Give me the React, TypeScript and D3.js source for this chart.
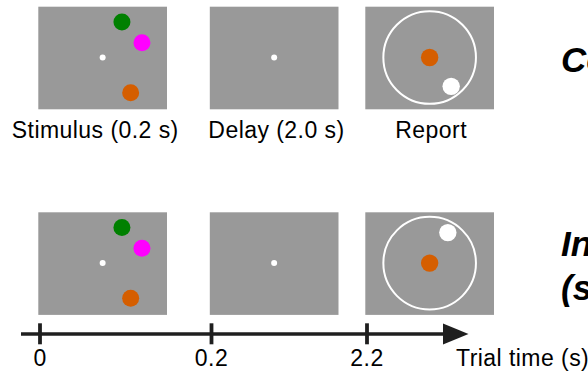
import React from 'react'
import * as d3 from 'd3'

// trial epochs and time axis
const epochNames = ['Stimulus (0.2 s)', 'Delay (2.0 s)', 'Report']
const epochStarts = [0, 0.2, 2.2]
const tickLabels = ['0', '0.2', '2.2']
const axisLabel = 'Trial time (s)'

// stimulus items (angle in deg clockwise from right, eccentricity in arbitrary units)
const stimColors = ['#008000', '#ff00ff', '#d55e00']
const stimAngles = [-61.5, -20.6, 51.5]
const stimEcc = [4.04, 4.2, 4.5]
const cueIndex = 2

// trial types and where the response landed
const trialTitles = [['Correct'], ['Incorrect', '(swap)']]
const reportAngles = [53.3, -59.2]
const reportEcc = [3.6, 3.55]

const W = 588
const H = 373
const font = '"Liberation Sans", Arial, Helvetica, sans-serif'

const App = () => {
  const x = d3.scaleLinear().domain(epochStarts).range([40, 211.5, 367])
  const ecc = d3.scaleLinear().domain([0, 1]).range([0, 10])
  const panelW = 128.7
  const panelH = 102.6
  const rowTop = [6.7, 212.3]
  const axisY = 334
  const labelDx = [-7.4, 2.3, 1.5]
  const fs = 23
  const ls = 0.45

  const polar = (a, r) => {
    const rad = (a * Math.PI) / 180
    return [ecc(r) * Math.cos(rad), ecc(r) * Math.sin(rad)]
  }

  return (
    <svg width={W} height={H} style={{position: 'absolute', left: 0, top: 0, overflow: 'hidden', background: '#fff'}}>
      {trialTitles.map((lines, row) => {
        const top = rowTop[row]
        const cy = top + panelH / 2 - 0.5
        return (
          <g key={row}>
            {epochStarts.map((t, i) => {
              const left = x(t) - 1.7
              const cx = left + panelW / 2
              return (
                <g key={i}>
                  <rect x={left} y={top} width={panelW} height={panelH} fill="#999999" />
                  {i < 2 && <circle cx={cx} cy={cy} r={3} fill="#fff" />}
                  {i === 0 && stimColors.map((c, k) => {
                    const [dx, dy] = polar(stimAngles[k], stimEcc[k])
                    return <circle key={k} cx={cx + dx} cy={cy + dy} r={8.5} fill={c} />
                  })}
                  {i === 2 && (
                    <g>
                      <circle cx={cx} cy={cy} r={46.3} fill="none" stroke="#fff" strokeWidth={2} />
                      <circle cx={cx} cy={cy} r={8.7} fill={stimColors[cueIndex]} />
                      {(() => {
                        const [dx, dy] = polar(reportAngles[row], reportEcc[row])
                        return <circle cx={cx + dx} cy={cy + dy} r={8.7} fill="#fff" />
                      })()}
                    </g>
                  )}
                  {row === 0 && (
                    <text x={cx + labelDx[i]} y={137.7} textAnchor="middle" fontFamily={font} fontSize={fs} letterSpacing={ls} fill="#000">
                      {epochNames[i]}
                    </text>
                  )}
                </g>
              )
            })}
            <text fontFamily={font} fontSize={35} fontWeight="bold" fontStyle="italic" fill="#000">
              {lines.map((l, j) => (
                <tspan key={j} x={561} y={(lines.length === 1 ? 72 : 256) + j * 44}>{l}</tspan>
              ))}
            </text>
          </g>
        )
      })}

      {/* time axis */}
      <line x1={21} x2={446} y1={axisY} y2={axisY} stroke="#1f1f1f" strokeWidth={3.6} />
      <path d={`M443,${axisY - 10.5}L468.5,${axisY}L443,${axisY + 10.5}Z`} fill="#1f1f1f" />
      {epochStarts.map((t, i) => (
        <g key={i}>
          <line x1={x(t)} x2={x(t)} y1={323.3} y2={344.3} stroke="#1f1f1f" strokeWidth={3.8} />
          <text x={x(t)} y={365.5} textAnchor="middle" fontFamily={font} fontSize={fs} letterSpacing={ls} fill="#000">
            {tickLabels[i]}
          </text>
        </g>
      ))}
      <text x={456} y={365.5} fontFamily={font} fontSize={fs} letterSpacing={ls} fill="#000">{axisLabel}</text>
    </svg>
  )
}

export default App
